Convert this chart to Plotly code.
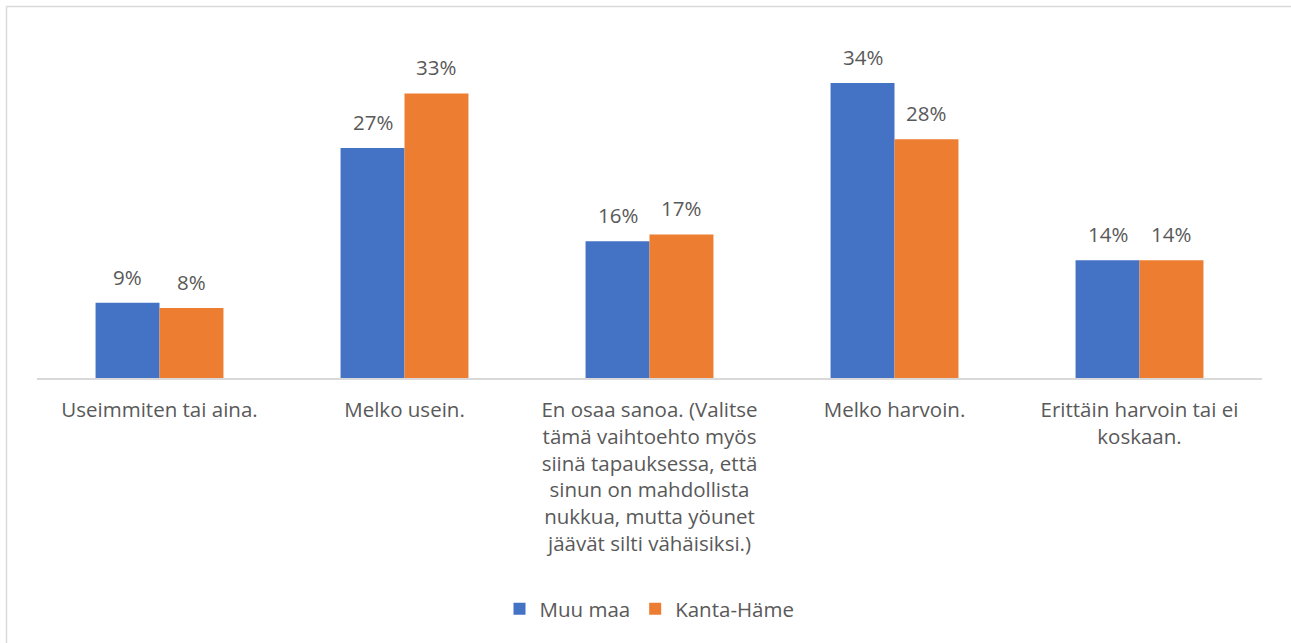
import plotly.graph_objects as go

categories = [
    "Useimmiten tai aina.",
    "Melko usein.",
    "En osaa sanoa. (Valitse<br>tämä vaihtoehto myös<br>siinä tapauksessa, että<br>sinun on mahdollista<br>nukkua, mutta yöunet<br>jäävät silti vähäisiksi.)",
    "Melko harvoin.",
    "Erittäin harvoin tai ei<br>koskaan.",
]
series_names = ["Muu maa", "Kanta-Häme"]
muu_maa = [8.7, 26.6, 15.8, 34.1, 13.6]
kanta_hame = [8.1, 32.9, 16.6, 27.6, 13.6]
colors = ["#4472C4", "#ED7D31"]

W, H = 1291, 643
L, R, T, B = 37, 29, 32, 265
pw, ph = W - L - R, H - T - B
FONT = "Open Sans"
TXT = "#595959"
FS = 20.5

fig = go.Figure()
for name, vals, col in zip(series_names, [muu_maa, kanta_hame], colors):
    fig.add_trace(go.Bar(
        x=categories, y=vals, name=name, marker_color=col,
        marker_line_width=0,
    ))

bar_px = pw / len(categories) * (1 - 0.478) / 2
annotations = []
for i, vals in enumerate([muu_maa, kanta_hame]):
    shift = (-0.5 if i == 0 else 0.5) * bar_px
    for c, v in zip(categories, vals):
        annotations.append(dict(
            x=c, y=v, text=f"{round(v)}%", showarrow=False,
            xshift=shift, yshift=10, yanchor="bottom",
            font=dict(family=FONT, size=FS, color=TXT),
        ))

def px_x(p):
    return (p - L) / pw

def px_y(p):
    return (H - B - p) / ph

shapes = [
    dict(type="line", xref="paper", yref="paper",
         x0=px_x(6.5), x1=px_x(1300), y0=px_y(6.5), y1=px_y(6.5),
         line=dict(color="#D9D9D9", width=1.5)),
    dict(type="line", xref="paper", yref="paper",
         x0=px_x(6.5), x1=px_x(6.5), y0=px_y(6.5), y1=px_y(650),
         line=dict(color="#D9D9D9", width=1.5)),
]

fig.update_layout(
    width=W, height=H,
    margin=dict(l=L, r=R, t=T, b=B, pad=0),
    barmode="group", bargap=0.478, bargroupgap=0,
    plot_bgcolor="white", paper_bgcolor="white",
    font=dict(family=FONT, size=FS, color=TXT),
    showlegend=True,
    legend=dict(orientation="h", x=0.5, xanchor="center",
                y=px_y(609), yanchor="middle",
                font=dict(family=FONT, size=FS, color=TXT),
                itemwidth=30, tracegroupgap=0),
    xaxis=dict(showline=True, linecolor="#D9D9D9", linewidth=1.5,
               ticks="", tickfont=dict(family=FONT, size=FS, color=TXT),
               ticklabelstandoff=13,
               showgrid=False, tickangle=0, automargin=False),
    yaxis=dict(range=[0, 40], visible=False, showgrid=False, zeroline=False),
    annotations=annotations,
    shapes=shapes,
)

fig.write_html("out.html", config={"displayModeBar": False},
               post_script="document.body.style.margin='0';")
